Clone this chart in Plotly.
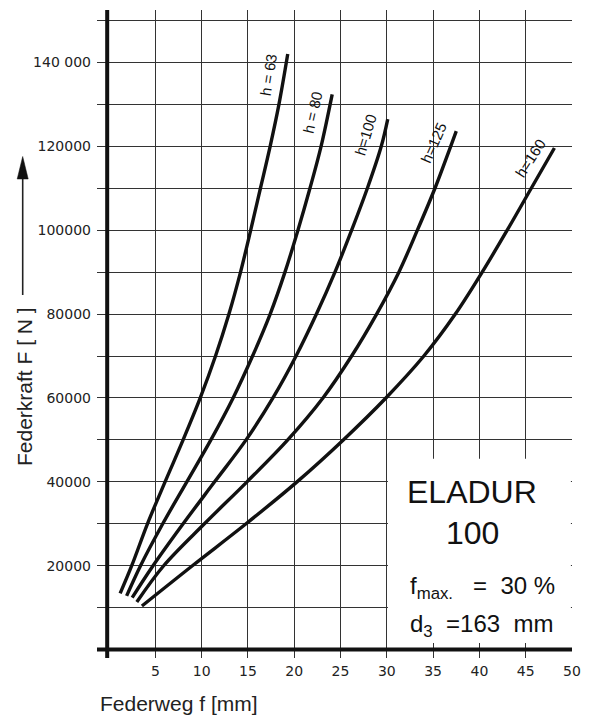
import plotly.graph_objects as go

# ---------------- data ----------------
h63_x = [1.2, 2.45, 4.15, 6.05, 8.0, 9.85, 11.5, 12.95, 14.2, 15.3, 16.35, 17.4, 18.35, 19.3]
h63_y = [13400, 20000, 30000, 40000, 50000, 60000, 70000, 80000, 90000, 100000, 110000, 120000, 130000, 142000]

h80_x = [1.9, 3.4, 5.8, 8.4, 11.0, 13.4, 15.5, 17.4, 19.0, 20.4, 21.7, 22.9, 24.1]
h80_y = [12800, 20000, 30000, 40000, 50000, 60000, 70000, 80000, 90000, 100000, 110000, 120000, 132400]

h100_x = [2.5, 4.75, 8.0, 11.4, 14.8, 17.7, 20.2, 22.4, 24.4, 26.2, 27.9, 29.4, 30.1]
h100_y = [12400, 20000, 30000, 40000, 50000, 60000, 70000, 80000, 90000, 100000, 110000, 120000, 126500]

h125_x = [3.0, 5.9, 10.3, 14.9, 19.3, 23.1, 26.2, 28.9, 31.3, 33.3, 35.2, 36.9, 37.5]
h125_y = [11350, 20000, 30000, 40000, 50000, 60000, 70000, 80000, 90000, 100000, 110000, 120000, 123600]

h160_x = [3.55, 9.0, 14.8, 20.3, 25.3, 29.9, 34.0, 37.4, 40.3, 43.0, 45.6, 48.1]
h160_y = [10400, 20000, 30000, 40000, 50000, 60000, 70000, 80000, 90000, 100000, 110000, 119600]

series = [
    ("h = 63", h63_x, h63_y),
    ("h = 80", h80_x, h80_y),
    ("h=100", h100_x, h100_y),
    ("h=125", h125_x, h125_y),
    ("h=160", h160_x, h160_y),
]

x_tickvals = [5, 10, 15, 20, 25, 30, 35, 40, 45, 50]
x_ticktext = ["5", "10", "15", "20", "25", "30", "35", "40", "45", "50"]
y_tickvals = [20000, 40000, 60000, 80000, 100000, 120000, 140000]
y_ticktext = ["20000", "40000", "60000", "80000", "100000", "120000", "140 000"]
y_minor_vals = [10000, 30000, 50000, 70000, 90000, 110000, 130000, 150000]

NB = "\u00a0"
x_title = "Federweg f [mm]"
y_title = "Federkraft F [ N ]"
box_title = "ELADUR"
box_number = "100"
box_line1 = f"f<sub>max.</sub>{NB*3}={NB*2}30{NB}%"
box_line2 = f"d<sub>3</sub>{NB*2}=163{NB*2}mm"

# label positions (data coords) and angles
label_pos = [(17.15, 137000, -81), (22.0, 128000, -77), (27.75, 122700, -73),
             (35.1, 120800, -66), (45.45, 117200, -57)]

# ---------------- layout geometry ----------------
# page has an 8px body margin: the figure div starts at (8, 8)
OFF = 8
W, H = 592 - OFF, 719 - OFF
PL, PR, PT, PB = 97, 572, 10, 658          # plot area in page pixels
ML, MR, MT, MB = PL - OFF, 592 - PR, PT - OFF, 719 - PB
XR = [-1.3, 50]
YR = [-2000, 152500]
PW = PR - PL
PH = PB - PT


def px_x(p):
    return (p - PL) / PW


def px_y(p):
    return (PB - p) / PH


FONT_T = "Liberation Sans, Arial, sans-serif"
FONT_D = "DejaVu Sans, sans-serif"
INK = "#111111"

fig = go.Figure()
for name, xs, ys in series:
    fig.add_trace(go.Scatter(x=xs, y=ys, mode="lines", name=name,
                             line=dict(color=INK, width=3.4,
                                       shape="spline", smoothing=1.0),
                             showlegend=False, hoverinfo="skip"))

shapes = []
# white box in lower right (covers grid)
shapes.append(dict(type="rect", xref="x", yref="y", x0=30.12, x1=49.88,
                   y0=1600, y1=45500, fillcolor="white", line=dict(width=0),
                   layer="above"))
# thick axis lines
shapes.append(dict(type="line", xref="x", yref="y", x0=XR[0], x1=50.1,
                   y0=0, y1=0, line=dict(color=INK, width=4), layer="above"))
shapes.append(dict(type="line", xref="x", yref="y", x0=-0.2, x1=-0.2,
                   y0=YR[0], y1=YR[1], line=dict(color=INK, width=4), layer="above"))

# arrow beside y title
ax_px = 22.7
shapes.append(dict(type="line", xref="paper", yref="paper",
                   x0=px_x(ax_px), x1=px_x(ax_px), y0=px_y(295), y1=px_y(172),
                   line=dict(color="#222222", width=1.6)))
shapes.append(dict(type="path", xref="paper", yref="paper",
                   path=f"M {px_x(ax_px)} {px_y(156.5)} L {px_x(ax_px - 5.5)} {px_y(179)} "
                        f"L {px_x(ax_px + 5.5)} {px_y(179)} Z",
                   fillcolor=INK, line=dict(color=INK, width=0.5)))

annotations = []
for (name, _, _), (lx, ly, ang) in zip(series, label_pos):
    annotations.append(dict(x=lx, y=ly, xref="x", yref="y", text=name,
                            showarrow=False, textangle=ang,
                            xanchor="center", yanchor="middle",
                            font=dict(family=FONT_T, size=15, color=INK)))

annotations += [
    dict(x=39.2, y=37600, xref="x", yref="y", text=box_title, showarrow=False,
         xanchor="center", yanchor="middle",
         font=dict(family=FONT_T, size=32, color=INK)),
    dict(x=39.3, y=27800, xref="x", yref="y", text=box_number, showarrow=False,
         xanchor="center", yanchor="middle",
         font=dict(family=FONT_T, size=32, color=INK)),
    dict(x=32.3, y=14700, xref="x", yref="y", text=box_line1, showarrow=False,
         xanchor="left", yanchor="middle",
         font=dict(family=FONT_T, size=24, color=INK)),
    dict(x=32.3, y=5700, xref="x", yref="y", text=box_line2, showarrow=False,
         xanchor="left", yanchor="middle",
         font=dict(family=FONT_T, size=24, color=INK)),
    dict(x=px_x(179), y=px_y(703), xref="paper", yref="paper", text=x_title,
         showarrow=False, xanchor="center", yanchor="middle",
         font=dict(family=FONT_T, size=21, color="#222222")),
    dict(x=px_x(24), y=px_y(387), xref="paper", yref="paper", text=y_title,
         showarrow=False, textangle=-90, xanchor="center", yanchor="middle",
         font=dict(family=FONT_T, size=21, color="#222222")),
]

grid = dict(showgrid=True, gridcolor="#333333", gridwidth=1.2)

fig.update_layout(
    width=W, height=H,
    margin=dict(l=ML, r=MR, t=MT, b=MB, pad=0, autoexpand=False),
    paper_bgcolor="white", plot_bgcolor="white",
    shapes=shapes, annotations=annotations,
    xaxis=dict(range=XR, tickvals=x_tickvals, ticktext=x_ticktext,
               zeroline=False, showline=False, ticks="", ticklabelstandoff=3,
               automargin=False,
               tickfont=dict(family=FONT_D, size=14, color="#222222"), **grid),
    yaxis=dict(range=YR, tickvals=y_tickvals, ticktext=y_ticktext,
               zeroline=False, showline=False, ticks="", ticklabelstandoff=5,
               automargin=False,
               minor=dict(tickmode="array", tickvals=y_minor_vals, ticks="", **grid),
               tickfont=dict(family=FONT_D, size=14, color="#222222"), **grid),
)

fig.write_html("out.html")
